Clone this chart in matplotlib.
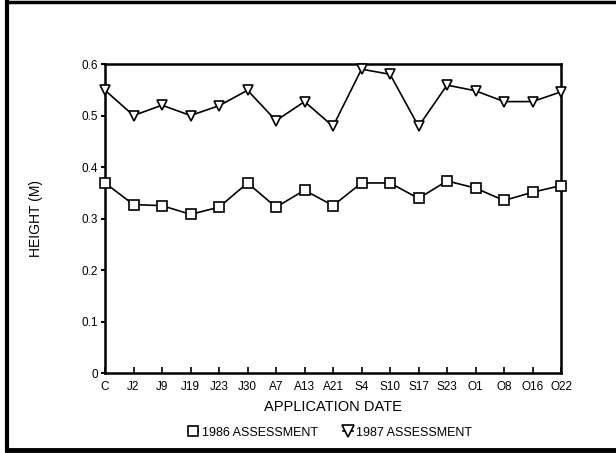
import matplotlib.pyplot as plt
from matplotlib.lines import Line2D

plt.rcParams['font.family'] = ['Liberation Sans', 'DejaVu Sans']

dates = ['C', 'J2', 'J9', 'J19', 'J23', 'J30', 'A7', 'A13', 'A21',
         'S4', 'S10', 'S17', 'S23', 'O1', 'O8', 'O16', 'O22']
h1986 = [0.369, 0.327, 0.325, 0.308, 0.322, 0.369, 0.322, 0.355, 0.325,
         0.369, 0.369, 0.339, 0.373, 0.359, 0.335, 0.351, 0.364]
h1987 = [0.549, 0.500, 0.520, 0.500, 0.519, 0.549, 0.490, 0.527, 0.479,
         0.590, 0.580, 0.479, 0.559, 0.548, 0.527, 0.527, 0.546]
yticks = [0, 0.1, 0.2, 0.3, 0.4, 0.5, 0.6]
ytick_labels = ['0', '0.1', '0.2', '0.3', '0.4', '0.5', '0.6']

fig = plt.figure(figsize=(6.16, 4.53), dpi=100)
ax = fig.add_axes([0.1705, 0.1766, 0.7403, 0.6821])

x = list(range(len(dates)))
ax.plot(x, h1986, '-', color='black', lw=1.2, marker='s', markersize=6.5,
        markerfacecolor='white', markeredgecolor='black', markeredgewidth=1.2,
        label='1986 ASSESSMENT', clip_on=False, zorder=3)
ax.plot(x, h1987, '-', color='black', lw=1.2, marker='v', markersize=7.5,
        markerfacecolor='white', markeredgecolor='black', markeredgewidth=1.2,
        label='1987 ASSESSMENT', clip_on=False, zorder=3)

ax.set_xlim(0, len(dates) - 1)
ax.set_ylim(0, 0.6)
ax.set_xticks(x)
ax.set_xticklabels(dates, fontsize=8.5)
ax.set_yticks(yticks)
ax.set_yticklabels(ytick_labels, fontsize=8.5)
ax.tick_params(axis='x', direction='in', length=4, width=1.2, pad=6)
ax.tick_params(axis='y', direction='out', length=3, width=1.5, pad=2)
for s in ax.spines.values():
    s.set_linewidth(1.8)

ax.set_xlabel('APPLICATION DATE', fontsize=10.5, labelpad=5)
ax.set_ylabel('HEIGHT (M)', fontsize=10, labelpad=28)

fig.legend(loc='center', bbox_to_anchor=(0.536, 0.045), ncol=2, frameon=False,
           fontsize=9, handlelength=0.8, handletextpad=0.3, columnspacing=2.0,
           markerscale=1.1)

# scanned page frame (left, top, bottom)
fig.add_artist(Line2D([0.012, 0.012], [0.006, 0.995], color='black', lw=3))
fig.add_artist(Line2D([0.012, 1.0], [0.995, 0.995], color='black', lw=2.5))
fig.add_artist(Line2D([0.012, 1.0], [0.007, 0.007], color='black', lw=3.5))

fig.savefig('out.png', dpi=100)
